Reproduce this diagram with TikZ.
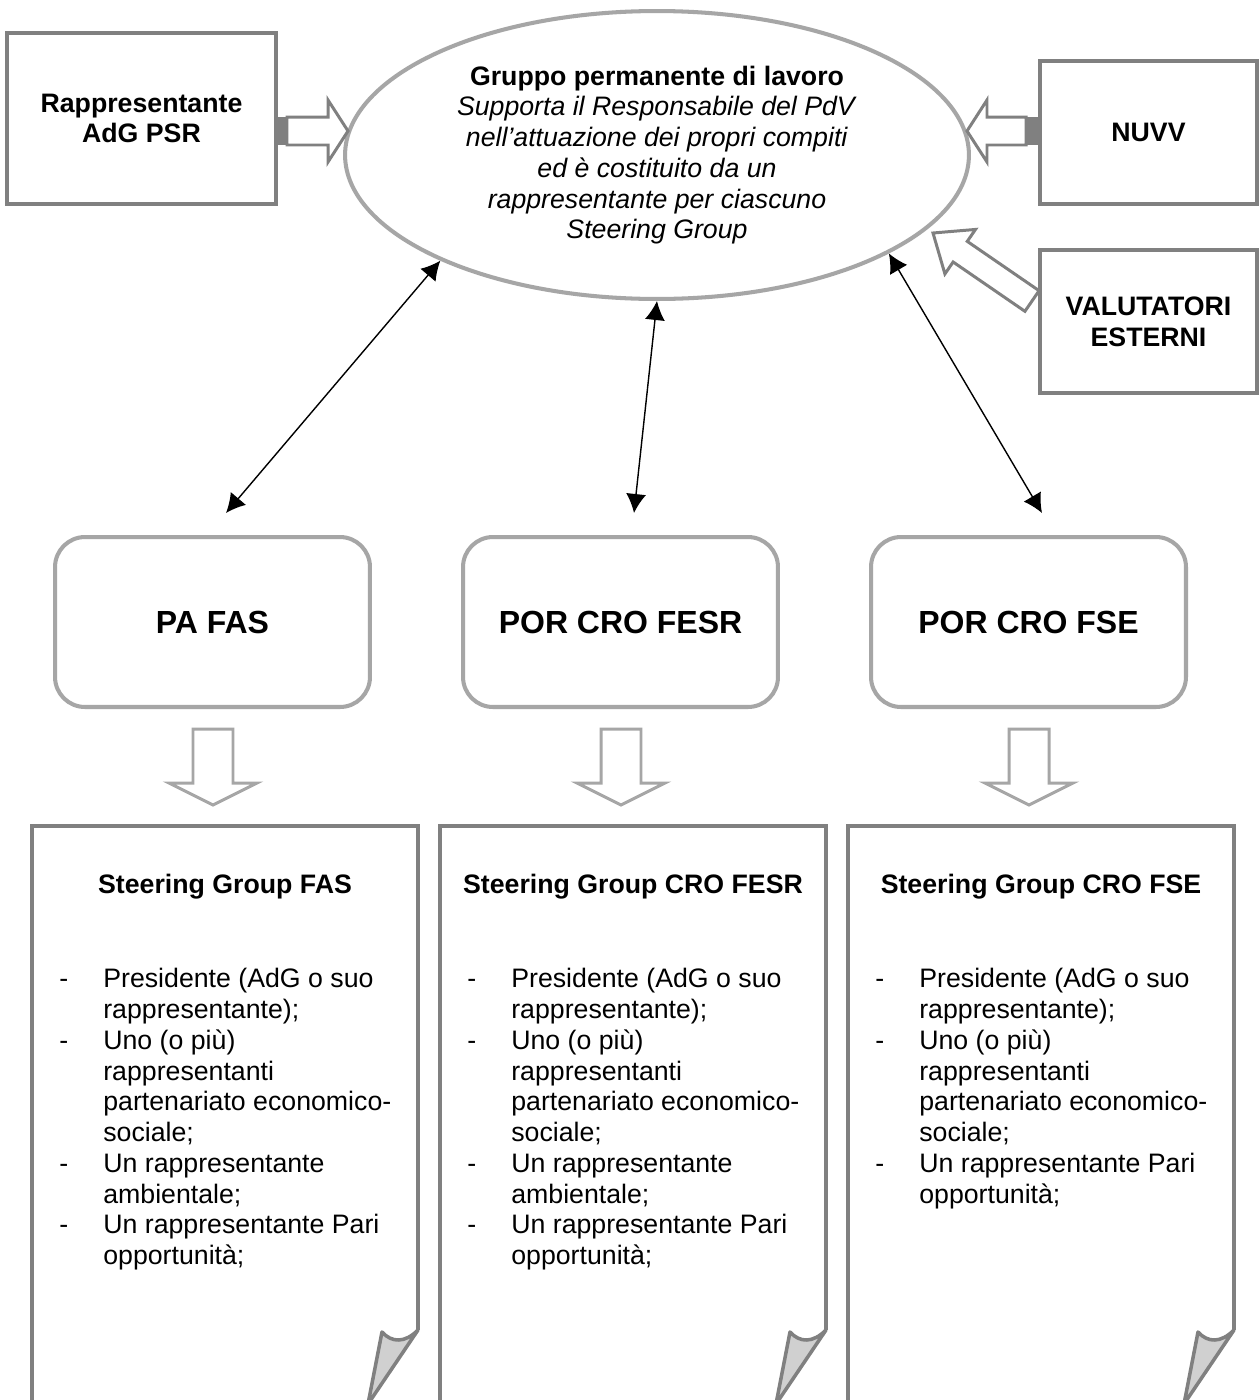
\documentclass[tikz,border=0pt]{standalone}
\usepackage{fontspec}
\setmainfont{Liberation Sans}
\usetikzlibrary{shapes.geometric,positioning,calc,arrows.meta}

\definecolor{boxgray}{HTML}{808080}
\definecolor{softgray}{HTML}{A6A6A6}
\definecolor{foldgray}{HTML}{D0D0D0}

\newcommand{\bodyfont}{\fontsize{15.2}{17.5}\selectfont}
\newcommand{\headfont}{\fontsize{18.2}{21}\selectfont\bfseries}

% hollow block arrow: [style]{tail}{tip}{half shaft}{half head}{head length}
\newcommand{\blockarrow}[6][]{%
  \coordinate (ba-a) at (#2);
  \coordinate (ba-b) at (#3);
  \coordinate (ba-h) at ($(ba-b)!#6!(ba-a)$);
  \draw[#1] ($(ba-a)!#4!90:(ba-b)$) -- ($(ba-h)!#4!-90:(ba-a)$)
    -- ($(ba-h)!#5!-90:(ba-a)$) -- (ba-b) -- ($(ba-h)!#5!90:(ba-a)$)
    -- ($(ba-h)!#4!90:(ba-a)$) -- ($(ba-a)!#4!-90:(ba-b)$) -- cycle;
}

\newcommand{\itemsfull}{%
-&Presidente (AdG o suo\\
 &rappresentante);\\
-&Uno (o più)\\
 &rappresentanti\\
 &partenariato economico-\\
 &sociale;\\
-&Un rappresentante\\
 &ambientale;\\
-&Un rappresentante Pari\\
 &opportunità;}
\newcommand{\itemsfse}{%
-&Presidente (AdG o suo\\
 &rappresentante);\\
-&Uno (o più)\\
 &rappresentanti\\
 &partenariato economico-\\
 &sociale;\\
-&Un rappresentante Pari\\
 &opportunità;}

\begin{document}
\begin{tikzpicture}[
x=0.02cm,
y=-0.02cm,
outer/.style={
  draw=boxgray,
  line width=2.5pt,
  fill=white,
  align=center,
  font=\bodyfont\bfseries,
  minimum width=4.34cm,
  minimum height=2.86cm
  },
group/.style={
  ellipse,
  draw=softgray,
  line width=2.3pt,
  inner sep=0pt,
  minimum width=12.48cm,
  minimum height=5.76cm,
  align=center,
  font=\bodyfont
  },
program/.style={
  draw=softgray,
  line width=2.3pt,
  rounded corners=0.6cm,
  minimum width=6.3cm,
  minimum height=3.4cm,
  font=\headfont
  },
page/.style={
  draw=boxgray,
  line width=2.3pt,
  fill=white
  },
fold/.style={
  draw=boxgray,
  line width=2pt,
  fill=foldgray,
  line join=round
  },
sidearrow/.style={
  draw=boxgray,
  line width=1.7pt,
  fill=white
  },
downarrow/.style={
  draw=softgray,
  line width=1.7pt,
  fill=white
  },
link/.style={
  <->,
  line width=0.8pt
  },
>={Latex[length=0.38cm,width=0.4cm]}
]
\useasboundingbox (0,0) rectangle (1258,1400);
\fill[white] (0,0) rectangle (1258,1400);

\node[group] (grp) at (657,155)
  {\textbf{Gruppo permanente di lavoro}\\
   \textit{Supporta il Responsabile del PdV}\\
   \textit{nell’attuazione dei propri compiti}\\
   \textit{ed è costituito da un}\\
   \textit{rappresentante per ciascuno}\\
   \textit{Steering Group}};

\node[outer, minimum width=5.38cm, minimum height=3.42cm] (rap) at (141.5,118.5)
  {Rappresentante\\AdG PSR};
\node[outer] (nuvv) at (1148.5,132.5) {NUVV};
\node[outer] (val) at (1148.5,321.5) {VALUTATORI\\ESTERNI};

% arrows into the working group
\fill[boxgray] (rap.east |- 0,117) rectangle ++(15,28);
\blockarrow[sidearrow]{287,131}{348,131}{0.28cm}{0.62cm}{0.4cm}
\fill[boxgray] (nuvv.west |- 0,117) rectangle ++(-14,28);
\blockarrow[sidearrow]{1026,131}{967,131}{0.28cm}{0.62cm}{0.4cm}
\blockarrow[sidearrow]{1032,301}{933,233}{0.25cm}{0.54cm}{0.66cm}

\foreach \col/\x/\prog/\title/\items in {
  fas/0/PA FAS/Steering Group FAS/\itemsfull,
  fesr/408/POR CRO FESR/Steering Group CRO FESR/\itemsfull,
  fse/816/POR CRO FSE/Steering Group CRO FSE/\itemsfse}
{
  \node[program] (\col) at (212.5+\x,622) {\prog};
  \coordinate (\col-tip) at ($(\col.north)+(13.5,-22)$);
  \blockarrow[downarrow]{213+\x,729}{213+\x,805}{0.4cm}{0.88cm}{0.44cm}
  \draw[page] (32+\x,1410) -- (32+\x,826) -- (418+\x,826) -- (418+\x,1330);
  \draw[fold] (418+\x,1330) .. controls (405+\x,1343) and (392+\x,1343) .. (382+\x,1332)
    -- (368+\x,1404) -- cycle;
  \node[font=\bodyfont\bfseries] (\col-title) at (225+\x,887) {\title};
  \node[anchor=north west, inner sep=0pt, font=\bodyfont] (\col-list) at (59+\x,966)
    {\begin{tabular}{@{}p{0.88cm}@{}l@{}}\items\end{tabular}};
}

\draw[link] (grp.206) -- (fas-tip);
\draw[link] (grp.south) -- (fesr-tip);
\draw[link] (grp.337) -- (fse-tip);
\end{tikzpicture}
\end{document}
